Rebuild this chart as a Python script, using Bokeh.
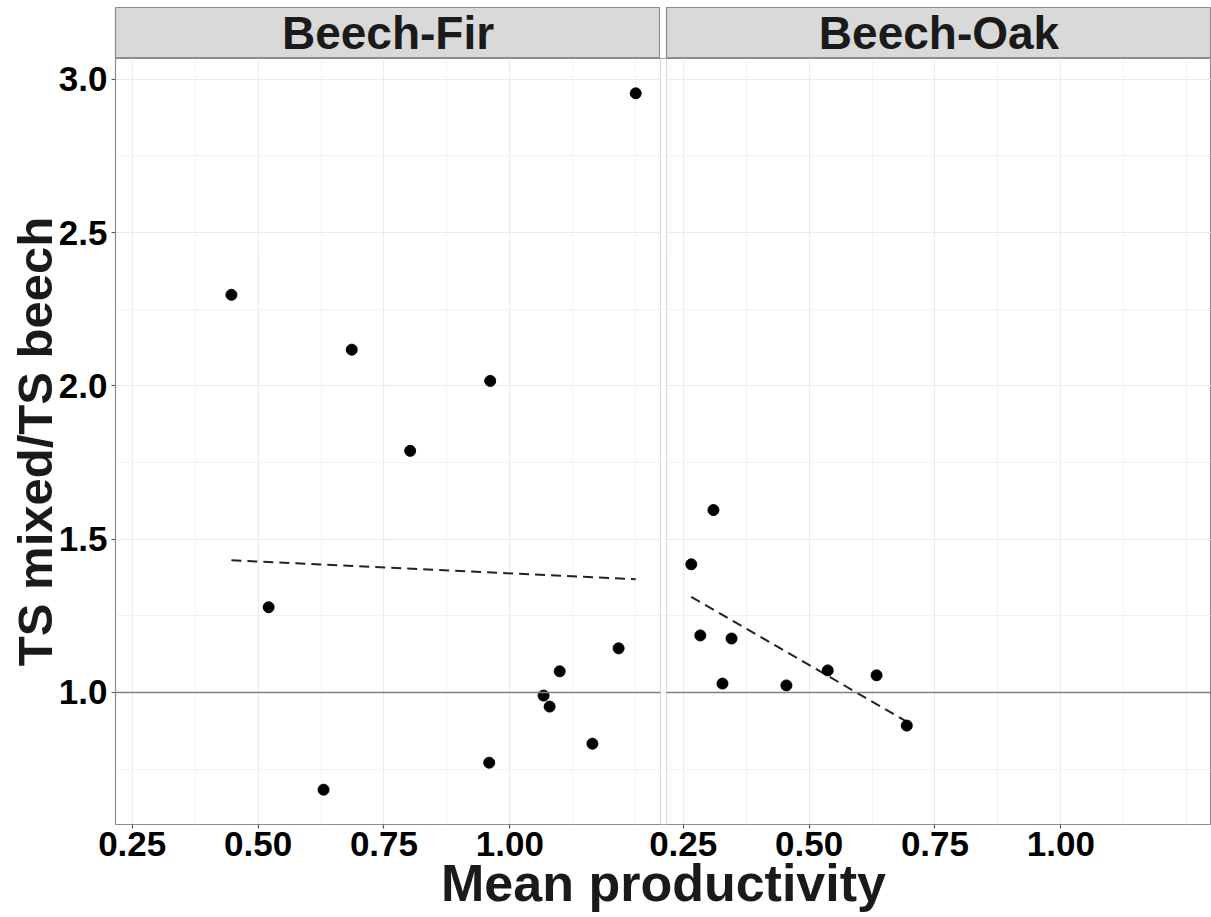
import numpy as np
from bokeh.plotting import figure
from bokeh.layouts import column, row
from bokeh.models import (Range1d, Span, FixedTicker, BoxAnnotation,
                          NumeralTickFormatter, CustomJSTickFormatter)
from bokeh.core.properties import value
from bokeh.embed import file_html
from bokeh.resources import INLINE

# ---------------- data ----------------
panel_names = ["Beech-Fir", "Beech-Oak"]
fir_productivity = [0.447, 0.521, 0.630, 0.686, 0.802, 0.959, 0.961, 1.067, 1.079, 1.099, 1.164, 1.216, 1.250]
fir_ts_ratio = [2.297, 1.278, 0.683, 2.118, 1.788, 0.771, 2.016, 0.990, 0.954, 1.069, 0.833, 1.144, 2.954]
oak_productivity = [0.266, 0.284, 0.310, 0.328, 0.346, 0.455, 0.537, 0.634, 0.694]
oak_ts_ratio = [1.418, 1.186, 1.595, 1.029, 1.176, 1.023, 1.072, 1.056, 0.892]
fit_intercept = [1.4655, 1.565]
fit_slope = [-0.0772, -0.951]
x_breaks = [0.25, 0.50, 0.75, 1.00]
y_breaks = [1.0, 1.5, 2.0, 2.5, 3.0]
reference_ratio = 1.0
x_title = "Mean productivity"
y_title = "TS mixed/TS beech"

# ---------------- layout / style ----------------
FONT = "Liberation Sans"
LEFT = 115
GAP = 6
PANEL_W = 545
STRIP_TOP = 7
STRIP_H = 51
FRAME_H = 766
BOTTOM = 93
FRAME_W = 2 * PANEL_W + GAP
BORDER = "#8c8c8c"
GRID = "#ebebeb"
TEXT = "#1a1a1a"


def padded(vals, frac=0.05):
    lo, hi = min(vals), max(vals)
    d = (hi - lo) * frac
    return lo - d, hi + d


def minor_between(breaks, lo, hi):
    step = breaks[1] - breaks[0]
    cand = np.arange(breaks[0] - step, breaks[-1] + step + 1e-9, step / 2)
    return [float(v) for v in cand
            if lo <= v <= hi and min(abs(v - b) for b in breaks) > 1e-9]


xlo, xhi = padded(fir_productivity + oak_productivity)
ylo, yhi = padded(fir_ts_ratio + oak_ts_ratio)
ppu = PANEL_W / (xhi - xlo)
offset = (PANEL_W + GAP) / ppu
frame_end = xlo + FRAME_W / ppu

main = figure(width=LEFT + FRAME_W, height=FRAME_H + BOTTOM,
              x_range=Range1d(xlo, frame_end), y_range=Range1d(ylo, yhi),
              min_border_left=LEFT, min_border_right=0, min_border_top=0,
              min_border_bottom=BOTTOM, output_backend="svg", toolbar_location=None)
main.extra_x_ranges = {"oak": Range1d(xlo - offset, frame_end - offset)}
main.background_fill_color = "white"
main.border_fill_color = "white"
main.outline_line_color = BORDER
main.outline_line_width = 1.2

# ticks
x_minor = minor_between(x_breaks, xlo, xhi)
xticker = FixedTicker(ticks=x_breaks + [b + offset for b in x_breaks],
                      minor_ticks=x_minor + [m + offset for m in x_minor])
y_minor = minor_between(y_breaks, ylo, yhi)
yticker = FixedTicker(ticks=y_breaks, minor_ticks=y_minor)

xa = main.xaxis[0]
xa.ticker = xticker
xa.formatter = CustomJSTickFormatter(args=dict(split=xhi, off=offset),
                                     code="const v = tick > split ? tick - off : tick; return v.toFixed(2);")
ya = main.yaxis[0]
ya.ticker = yticker
ya.formatter = NumeralTickFormatter(format="0.0")

for ax in (xa, ya):
    ax.axis_line_color = None
    ax.major_tick_line_color = "#555555"
    ax.major_tick_line_width = 1.2
    ax.major_tick_in = 0
    ax.major_tick_out = 4
    ax.minor_tick_line_color = None
    ax.major_label_text_font = FONT
    ax.major_label_text_font_style = "bold"
    ax.major_label_text_font_size = "35px"
    ax.major_label_text_color = "black"
    ax.major_label_standoff = 4
    ax.axis_label_text_font = FONT
    ax.axis_label_text_font_style = "bold"
    ax.axis_label_text_color = TEXT
xa.major_label_standoff = 3
xa.axis_label = x_title
ya.axis_label = y_title
xa.axis_label_text_font_size = "52px"
ya.axis_label_text_font_size = "49px"
xa.axis_label_standoff = -5
ya.axis_label_standoff = -6

for g in (main.xgrid[0], main.ygrid[0]):
    g.grid_line_color = GRID
    g.grid_line_width = 1.1
    g.minor_grid_line_color = GRID
    g.minor_grid_line_width = 0.6
main.xgrid[0].ticker = xticker
main.ygrid[0].ticker = yticker

# reference line at ratio 1
main.add_layout(Span(location=reference_ratio, dimension="width",
                     line_color="#7f7f7f", line_width=1.6))

# panel data
groups = [(fir_productivity, fir_ts_ratio, "default"),
          (oak_productivity, oak_ts_ratio, "oak")]
for k, (px, py, rname) in enumerate(groups):
    xs = [min(px), max(px)]
    ys = [fit_intercept[k] + fit_slope[k] * v for v in xs]
    main.line(xs, ys, x_range_name=rname, line_color="#222222",
              line_width=2, line_dash="10 6")
    main.scatter(px, py, x_range_name=rname, size=11,
                 fill_color="black", line_color="black")

# gap between the two facets
main.add_layout(BoxAnnotation(left=xhi, right=xlo + offset,
                              fill_color="white", fill_alpha=1.0,
                              line_color=BORDER, line_width=1.2))


def strip(label, left):
    s = figure(width=left + PANEL_W, height=STRIP_TOP + STRIP_H,
               x_range=Range1d(0, 1), y_range=Range1d(0, 1),
               min_border_left=left, min_border_right=0, min_border_top=STRIP_TOP,
               min_border_bottom=0, x_axis_location=None, y_axis_location=None,
               output_backend="svg", toolbar_location=None)
    s.grid.visible = False
    s.background_fill_color = "#d9d9d9"
    s.border_fill_color = "white"
    s.outline_line_color = BORDER
    s.outline_line_width = 1.2
    s.text(x=[0.5], y=[0.5], text=[label], text_align="center",
           text_baseline="middle", text_font=value(FONT),
           text_font_style="bold", text_font_size="46px", text_color=TEXT)
    return s


s1 = strip(panel_names[0], LEFT)
s2 = strip(panel_names[1], GAP)

layout = column(row(s1, s2, spacing=0), main, spacing=0)
open("out.html", "w").write(file_html(layout, INLINE))
